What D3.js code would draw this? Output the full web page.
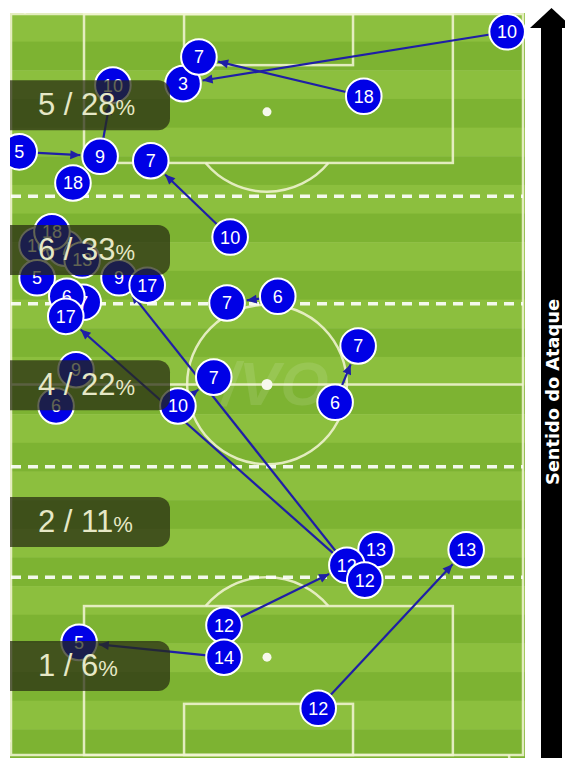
<!DOCTYPE html>
<html>
<head>
<meta charset="utf-8">
<title>Sentido do Ataque</title>
<script src="https://cdn.jsdelivr.net/npm/d3@7"></script>
<style>
  body { margin: 0; background: #fff; }
</style>
</head>
<body>
<script>
// pitch units: x 0-100 across (left -> right), y 0-100 along (own goal -> attacking goal)

// players (circle number, position)
var players = [
  {id: "10a", num: "10", x: 96.9, y: 97.6},
  {id: "3",   num: "3",  x: 33.6, y: 90.6},
  {id: "7a",  num: "7",  x: 36.7, y: 94.2},
  {id: "18a", num: "18", x: 68.9, y: 88.9},
  {id: "10b", num: "10", x: 19.9, y: 90.4},
  {id: "5a",  num: "5",  x: 1.6,  y: 81.4},
  {id: "9a",  num: "9",  x: 17.4, y: 80.8},
  {id: "18b", num: "18", x: 12.1, y: 77.2},
  {id: "7b",  num: "7",  x: 27.3, y: 80.2},
  {id: "10c", num: "10", x: 42.8, y: 69.9},
  {id: "10e", num: "10", x: 5.1,  y: 68.8},
  {id: "7f",  num: "7",  x: 10.5, y: 68.4},
  {id: "18c", num: "18", x: 8.0,  y: 70.6},
  {id: "13a", num: "13", x: 13.9, y: 66.8},
  {id: "5b",  num: "5",  x: 5.1,  y: 64.4},
  {id: "9b",  num: "9",  x: 21.1, y: 64.4},
  {id: "17a", num: "17", x: 26.6, y: 63.4},
  {id: "7g",  num: "7",  x: 14.1, y: 61.1},
  {id: "6a",  num: "6",  x: 10.9, y: 61.9},
  {id: "17b", num: "17", x: 10.7, y: 59.2},
  {id: "7c",  num: "7",  x: 42.2, y: 61.0},
  {id: "6b",  num: "6",  x: 52.1, y: 61.9},
  {id: "7d",  num: "7",  x: 67.8, y: 55.2},
  {id: "6c",  num: "6",  x: 63.3, y: 47.6},
  {id: "7e",  num: "7",  x: 39.6, y: 51.0},
  {id: "10d", num: "10", x: 32.6, y: 47.1},
  {id: "9c",  num: "9",  x: 12.7, y: 52.0},
  {id: "6d",  num: "6",  x: 8.8,  y: 47.1},
  {id: "13b", num: "13", x: 71.3, y: 27.7},
  {id: "12a", num: "12", x: 65.6, y: 25.6},
  {id: "12b", num: "12", x: 69.1, y: 23.6},
  {id: "13c", num: "13", x: 88.9, y: 27.7},
  {id: "12c", num: "12", x: 41.6, y: 17.5},
  {id: "14",  num: "14", x: 41.6, y: 13.2},
  {id: "5c",  num: "5",  x: 13.3, y: 15.2},
  {id: "12d", num: "12", x: 60.0, y: 6.3}
];

// passes: from -> to
var passes = [
  ["10a", "3"], ["18a", "7a"], ["9a", "10b"], ["5a", "9a"], ["18b", "9a"],
  ["10c", "7b"], ["6b", "7c"], ["6c", "7d"], ["10d", "7e"],
  ["12a", "9b"], ["12a", "17b"], ["12c", "12a"], ["14", "5c"], ["12d", "13c"]
];

// zones (bounds of each band, from attacking end) and labels
var zoneTop    = [100, 75.4, 60.9, 38.9, 24.0];
var zoneBottom = [75.4, 60.9, 38.9, 24.0, 0];
var zoneCount  = [5, 6, 4, 2, 1];
var zonePct    = [28, 33, 22, 11, 6];
var zoneLines  = [75.4, 60.9, 38.9, 24.0];

var W = 565, H = 758;
var svg = d3.select("body").append("svg")
    .attr("width", W)
    .attr("height", H);

var x = d3.scaleLinear().domain([0, 100]).range([11, 523]);
var y = d3.scaleLinear().domain([0, 100]).range([755, 14]);

var defs = svg.append("defs");
defs.append("clipPath").attr("id", "pitchClip")
  .append("rect")
    .attr("x", 10).attr("y", 13)
    .attr("width", 515).attr("height", H - 13);

defs.append("marker")
    .attr("id", "arrow")
    .attr("viewBox", "0 -5 10 10")
    .attr("refX", 10).attr("refY", 0)
    .attr("markerUnits", "userSpaceOnUse")
    .attr("markerWidth", 11).attr("markerHeight", 10)
    .attr("orient", "auto")
  .append("path")
    .attr("d", "M0,-4.5L10,0L0,4.5Z")
    .style("fill", "#1f1fa6");

var pitch = svg.append("g").attr("clip-path", "url(#pitchClip)");

// grass stripes
var nStripes = 26;
var stripes = d3.range(nStripes);
pitch.selectAll("rect.stripe")
  .data(stripes)
  .enter().append("rect")
    .attr("class", "stripe")
    .attr("x", 10)
    .attr("width", 515)
    .attr("y", function(d) { return 13 + d * (H - 13) / nStripes; })
    .attr("height", (H - 13) / nStripes + 0.5)
    .style("fill", function(d) { return d % 2 ? "#7db332" : "#8cbf3e"; });

// markings
var lineCol = "rgba(240,244,210,0.88)";
var mk = pitch.append("g")
    .style("fill", "none")
    .style("stroke", lineCol)
    .style("stroke-width", 2.5);

mk.append("rect")
    .attr("x", x(0)).attr("y", y(100))
    .attr("width", x(100) - x(0)).attr("height", y(0) - y(100));

mk.append("line")
    .attr("x1", x(0)).attr("x2", x(100))
    .attr("y1", y(50)).attr("y2", y(50));

var rCircle = x(15.6) - x(0);
mk.append("circle").attr("cx", x(50)).attr("cy", y(50)).attr("r", rCircle);

// penalty areas, goal areas, arcs (top and bottom)
[[100, -1], [0, 1]].forEach(function(e) {
  var end = e[0], dir = e[1];
  var boxEdge = end + dir * 20.1, sixEdge = end + dir * 6.9, spot = end + dir * 13.2;
  mk.append("rect")
    .attr("x", x(14.26)).attr("width", x(86.3) - x(14.26))
    .attr("y", Math.min(y(end), y(boxEdge))).attr("height", Math.abs(y(end) - y(boxEdge)));
  mk.append("rect")
    .attr("x", x(33.8)).attr("width", x(66.8) - x(33.8))
    .attr("y", Math.min(y(end), y(sixEdge))).attr("height", Math.abs(y(end) - y(sixEdge)));
  var dy = Math.abs(y(boxEdge) - y(spot));
  var a = Math.acos(dy / rCircle);
  var arc = d3.arc().innerRadius(rCircle).outerRadius(rCircle)
    .startAngle(dir > 0 ? -a : Math.PI - a)
    .endAngle(dir > 0 ? a : Math.PI + a);
  mk.append("path")
    .attr("transform", "translate(" + x(50) + "," + y(spot) + ")")
    .attr("d", arc());
  pitch.append("circle")
    .attr("cx", x(50)).attr("cy", y(spot)).attr("r", 4.5)
    .style("fill", "#f6f8ec");
});

// corner arcs
[[0, 0, 0], [100, 0, -90], [0, 100, 90], [100, 100, 180]].forEach(function(c) {
  var arc = d3.arc().innerRadius(14).outerRadius(14).startAngle(0).endAngle(Math.PI / 2);
  mk.append("path")
    .attr("transform", "translate(" + x(c[0]) + "," + y(c[1]) + ") rotate(" + (c[2] - 90) + ")")
    .attr("d", arc());
});

pitch.append("circle")
    .attr("cx", x(50)).attr("cy", y(50)).attr("r", 5.5)
    .style("fill", "#f6f8ec");

// watermark
pitch.append("text")
    .attr("x", x(50) + 8).attr("y", y(50) + 20)
    .attr("text-anchor", "middle")
    .style("font-family", "Liberation Sans, Arial, sans-serif")
    .style("font-weight", "bold")
    .style("font-style", "italic")
    .style("font-size", "62px")
    .style("fill", "rgba(255,255,255,0.11)")
    .text("/VO");

// zone dashed lines
pitch.selectAll("line.zone")
  .data(zoneLines)
  .enter().append("line")
    .attr("class", "zone")
    .attr("x1", x(0)).attr("x2", x(100))
    .attr("y1", function(d) { return y(d); })
    .attr("y2", function(d) { return y(d); })
    .style("stroke", "rgba(255,255,255,0.9)")
    .style("stroke-width", 3.5)
    .style("stroke-dasharray", "10,7");

// passes
var byId = {};
players.forEach(function(p) { byId[p.id] = p; });
var rNode = 17.8;

pitch.selectAll("line.pass")
  .data(passes)
  .enter().append("line")
    .attr("class", "pass")
    .each(function(d) {
      var s = byId[d[0]], t = byId[d[1]];
      var x1 = x(s.x), y1 = y(s.y), x2 = x(t.x), y2 = y(t.y);
      var len = Math.hypot(x2 - x1, y2 - y1);
      var k = (len - rNode - 2) / len;
      d3.select(this)
        .attr("x1", x1).attr("y1", y1)
        .attr("x2", x1 + (x2 - x1) * k)
        .attr("y2", y1 + (y2 - y1) * k);
    })
    .style("stroke", "#1f1fa6")
    .style("stroke-width", 2.2)
    .attr("marker-end", "url(#arrow)");

// player circles
var node = pitch.selectAll("g.player")
  .data(players)
  .enter().append("g")
    .attr("class", "player")
    .attr("transform", function(d) { return "translate(" + x(d.x) + "," + y(d.y) + ")"; });

node.append("circle")
    .attr("r", rNode)
    .style("fill", "#0000e6")
    .style("stroke", "#ffffff")
    .style("stroke-width", 2);

node.append("text")
    .attr("text-anchor", "middle")
    .attr("dy", "0.36em")
    .style("font-family", "Liberation Sans, Arial, sans-serif")
    .style("font-size", "18px")
    .style("fill", "#ffffff")
    .text(function(d) { return d.num; });

// zone label boxes
var labels = pitch.selectAll("g.zlabel")
  .data(zoneCount)
  .enter().append("g")
    .attr("class", "zlabel")
    .attr("transform", function(d, i) {
      return "translate(0," + y((zoneTop[i] + zoneBottom[i]) / 2) + ")";
    });

labels.append("rect")
    .attr("x", -10).attr("y", -25)
    .attr("width", 180).attr("height", 50)
    .attr("rx", 12)
    .style("fill", "rgba(38,42,16,0.72)");

var lt = labels.append("text")
    .attr("x", 38).attr("y", 10)
    .style("font-family", "Liberation Sans, Arial, sans-serif")
    .style("fill", "#e6e8c6");
lt.append("tspan")
    .style("font-size", "31px")
    .text(function(d, i) { return d + " / " + zonePct[i]; });
lt.append("tspan")
    .style("font-size", "22px")
    .text("%");

// attack direction arrow
var ax = 551.5;
svg.append("rect")
    .attr("x", ax - 10.5).attr("y", 27)
    .attr("width", 21).attr("height", H - 27)
    .style("fill", "#000");
svg.append("path")
    .attr("d", "M" + ax + ",8L" + (ax + 21.5) + ",28L" + (ax - 21.5) + ",28Z")
    .style("fill", "#000");
svg.append("text")
    .attr("transform", "translate(" + (ax + 1) + ",392) rotate(-90)")
    .attr("text-anchor", "middle")
    .attr("dy", "0.35em")
    .attr("textLength", 186)
    .attr("lengthAdjust", "spacingAndGlyphs")
    .style("font-family", "Liberation Sans Narrow, DejaVu Sans Condensed, sans-serif")
    .style("font-weight", "bold")
    .style("font-size", "18px")
    .style("fill", "#fff")
    .text("Sentido do Ataque");
</script>
</body>
</html>
